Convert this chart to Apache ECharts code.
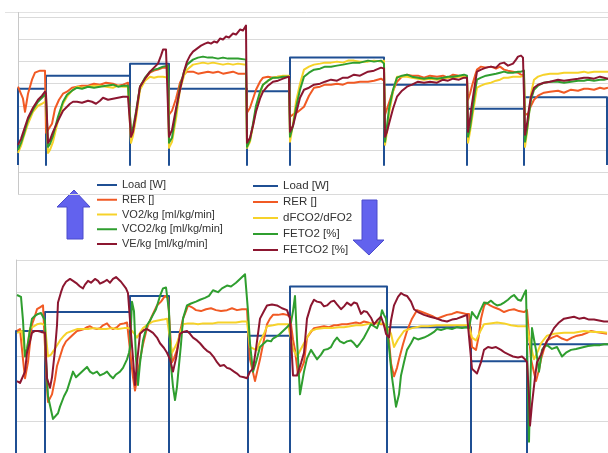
<!DOCTYPE html>
<html>
<head>
<meta charset="utf-8">
<script src="https://cdn.jsdelivr.net/npm/echarts@6/dist/echarts.min.js"></script>
<style>
  html, body { margin: 0; padding: 0; background: #ffffff; }
  #chart { width: 608px; height: 453px; }
</style>
</head>
<body>
<div id="chart"></div>
<script>
// ---- Upper panel: gas exchange per kg (time in s, values in panel units) ----
const loadTopT = [0, 28, 112, 151, 229, 272, 366, 449, 506, 589];
const loadTopW = [105, 118, 130, 105, 102.5, 136, 109, 85, 96.5];
const loadTopBase = 29;

const rerTop = [
  [0,107],[2,107],[5,95],[7,82],[10,100],[14,114],[17,121],[22,123],[27,123],[28,61],
  [30,62],[34,70],[37,85],[41,94],[45,100],[49,102],[54,106],[59,107],[64,108],[70,108],[76,110],[82,109],[88,111],[95,110],[100,108],[105,109],[110,111],[112,111],
  [113,62],[116,66],[119,85],[122,107],[127,115],[132,121],[136,123],[140,124],[145,126],[150,126],
  [151,79],[154,83],[158,95],[162,111],[166,119],[169,122],[175,122],[180,120],[185,121],[190,122],[195,121],[200,122],[205,120],[210,121],[215,122],[220,120],[228,120],
  [229,81],[232,86],[235,95],[238,104],[242,112],[245,116],[250,117],[255,116],[260,117],[265,117],[271,117],
  [272,77],[276,80],[280,82],[286,87],[291,98],[296,106],[302,107],[307,109],[313,109],[319,110],[325,109],[330,111],[336,111],[342,112],[350,112],[356,113],[363,115],[366,113],
  [367,79],[370,88],[373,97],[376,105],[379,112],[384,117],[389,119],[394,118],[400,118],[406,116],[412,118],[419,117],[425,118],[430,116],[435,119],[441,118],[446,117],[449,116],
  [450,94],[452,100],[454,108],[457,118],[459,124],[463,127],[468,126],[473,127],[478,125],[482,127],[486,124],[490,123],[495,122],[500,121],[503,119],[506,118],
  [507,79],[510,80],[513,88],[516,94],[520,98],[526,101],[532,102],[540,103],[546,101],[553,104],[560,103],[566,105],[570,105],[576,104],[582,106],[586,105],[590,106]
];
const vo2Top = [
  [0,41],[3,48],[6,58],[10,70],[15,82],[20,88],[24,90],[27,92],[28,90],
  [30,41],[32,44],[35,52],[40,73],[45,90],[49,97],[54,103],[59,107],[64,106],[70,107],[76,108],[82,108],[88,107],[95,106],[100,108],[105,107],[110,107],[112,106],
  [113,51],[115,58],[118,75],[122,104],[127,113],[132,117],[136,116],[140,117],[145,117],[150,116],
  [151,46],[154,52],[158,75],[162,104],[166,118],[169,124],[175,129],[180,130],[185,131],[190,130],[195,131],[200,130],[205,129],[210,130],[215,129],[220,130],[228,129],
  [229,46],[232,52],[235,68],[238,85],[242,100],[245,109],[250,113],[255,116],[260,117],[265,118],[271,118],
  [272,52],[275,70],[278,92],[282,110],[286,124],[291,127],[296,129],[302,130],[307,131],[313,131],[319,132],[325,131],[330,133],[336,133],[342,132],[350,132],[356,133],[363,132],[366,133],
  [367,49],[369,62],[371,80],[375,102],[379,117],[384,117],[389,117],[394,116],[400,115],[406,114],[412,115],[419,114],[425,115],[430,116],[435,116],[441,117],[446,117],[449,116],
  [450,51],[452,62],[454,75],[457,94],[459,106],[463,108],[468,110],[473,111],[478,113],[482,114],[486,116],[490,116],[495,117],[500,117],[503,117],[506,118],
  [507,47],[509,62],[511,80],[513,100],[516,114],[520,117],[526,119],[532,120],[540,120],[546,121],[553,121],[560,121],[566,122],[570,121],[576,122],[582,122],[586,122],[590,122]
];
const vco2Top = [
  [0,44],[3,51],[6,60],[10,74],[15,84],[20,92],[24,96],[27,99],[28,97],
  [30,47],[32,50],[35,58],[40,77],[45,92],[49,99],[54,103],[59,106],[64,105],[70,107],[76,106],[82,107],[88,108],[95,109],[100,107],[105,108],[110,108],[112,107],
  [113,62],[115,66],[118,82],[122,107],[127,116],[132,122],[136,124],[140,125],[145,127],[150,128],
  [151,51],[154,56],[158,82],[162,107],[166,122],[169,129],[175,134],[180,136],[185,137],[190,136],[195,136],[200,135],[205,136],[210,135],[215,135],[220,135],[228,134],
  [229,47],[232,54],[235,70],[238,88],[242,102],[245,109],[250,113],[255,116],[260,116],[265,117],[271,117],
  [272,57],[275,68],[278,86],[282,104],[286,117],[291,121],[296,124],[302,125],[307,127],[313,127],[319,128],[325,129],[330,130],[336,131],[342,131],[350,133],[356,132],[363,133],[366,130],
  [367,52],[369,68],[371,85],[375,104],[379,116],[384,118],[389,119],[394,117],[400,116],[406,115],[412,116],[419,115],[425,116],[430,117],[435,117],[441,118],[446,119],[449,118],
  [450,57],[452,66],[454,80],[457,102],[459,114],[463,116],[468,118],[473,119],[478,120],[482,121],[486,122],[490,121],[495,121],[500,122],[503,122],[506,123],
  [507,52],[509,64],[511,80],[513,94],[516,104],[520,108],[526,111],[532,112],[540,112],[546,111],[553,112],[560,113],[566,113],[570,114],[576,113],[582,114],[586,114],[590,115]
];
const veTop = [
  [0,49],[3,55],[6,64],[10,76],[15,86],[20,94],[24,98],[27,102],[28,100],
  [30,51],[32,54],[35,62],[40,73],[45,83],[49,87],[52,90],[55,92],[59,92],[64,91],[70,93],[74,92],[78,90],[82,93],[85,96],[90,94],[95,95],[100,96],[105,97],[110,97],[112,97],
  [113,57],[115,62],[118,80],[122,107],[127,115],[132,122],[136,126],[140,130],[143,138],[145,144],[148,144],[150,143],
  [151,57],[154,64],[158,85],[162,104],[166,122],[169,132],[172,138],[175,142],[179,145],[183,148],[187,150],[190,151],[193,150],[196,152],[199,151],[202,155],[205,154],[208,157],[211,156],[215,160],[218,159],[222,164],[225,163],[228,168],
  [229,51],[232,56],[235,68],[238,82],[242,95],[245,102],[250,108],[255,112],[260,113],[265,115],[271,117],
  [272,62],[275,68],[278,80],[282,96],[286,104],[291,106],[296,109],[302,110],[307,112],[313,114],[319,113],[325,116],[330,116],[336,119],[342,118],[350,122],[356,123],[363,126],[366,125],
  [367,57],[369,62],[371,70],[375,85],[379,97],[384,103],[389,107],[394,109],[400,112],[406,111],[412,112],[419,111],[425,114],[430,113],[435,115],[441,114],[446,116],[449,116],
  [450,62],[452,75],[454,90],[457,110],[459,122],[463,124],[468,126],[473,127],[478,126],[482,130],[486,131],[490,128],[495,130],[498,134],[500,137],[503,138],[505,136],
  [507,59],[509,70],[511,85],[513,97],[516,106],[520,109],[526,111],[532,112],[540,114],[546,113],[553,114],[560,115],[566,116],[570,116],[576,115],[582,117],[586,116],[590,115]
];

// ---- Lower panel: end-tidal fractions ----
const loadBotT = [0, 29, 114, 153, 232, 274, 371, 455, 511, 592];
const loadBotW = [129, 149, 166, 128, 124, 176, 133, 97, 115];
const loadBotBase = 0;

const rerBot = [
  [1,129],[4,131],[7,99],[9,79],[12,96],[16,136],[19,145],[21,152],[24,154],[27,156],[29,154],
  [31,69],[32,54],[34,56],[36,62],[39,78],[41,92],[44,102],[47,112],[50,118],[54,122],[58,126],[61,129],[65,130],[68,131],[71,133],[74,134],[77,132],[81,131],[84,132],[87,135],[91,137],[94,133],[97,131],[101,133],[104,136],[108,137],[111,138],[113,137],
  [115,99],[117,80],[119,66],[122,85],[124,99],[127,115],[131,132],[136,145],[141,156],[145,160],[149,166],[152,164],
  [156,96],[158,100],[161,109],[164,128],[167,142],[170,150],[172,156],[176,154],[180,151],[185,150],[190,152],[195,153],[200,151],[205,150],[211,151],[216,153],[221,151],[226,152],[231,152],
  [234,99],[237,85],[239,76],[242,90],[244,99],[248,120],[251,136],[254,142],[257,146],[262,146],[267,147],[271,146],[274,144],
  [277,120],[279,109],[282,82],[285,88],[288,96],[291,122],[295,128],[298,132],[303,133],[308,134],[313,133],[318,135],[321,135],[326,136],[331,136],[335,137],[340,138],[344,137],[348,139],[352,138],[355,137],[358,137],[362,138],[365,136],[368,136],[370,134],
  [373,119],[375,95],[378,81],[381,90],[383,99],[387,115],[391,129],[396,142],[401,151],[406,149],[411,147],[416,145],[421,142],[426,144],[431,146],[436,147],[441,149],[446,148],[450,147],[453,147],
  [456,112],[460,109],[463,125],[465,142],[468,155],[470,159],[474,156],[478,154],[483,152],[488,149],[493,151],[498,152],[503,150],[508,149],[511,151],
  [515,99],[518,85],[520,76],[523,88],[525,99],[528,110],[531,119],[536,122],[541,124],[546,121],[551,119],[556,122],[561,124],[566,125],[571,127],[575,129],[580,128],[585,127],[591,126]
];
const dfBot = [
  [1,127],[6,129],[9,102],[11,110],[14,132],[18,134],[21,136],[25,137],[27,137],[29,135],
  [32,102],[35,104],[37,106],[40,112],[44,119],[48,124],[51,127],[56,129],[61,131],[66,131],[72,131],[78,132],[84,131],[90,131],[96,132],[102,131],[108,132],[113,132],
  [116,129],[119,125],[121,122],[124,127],[127,132],[132,136],[137,139],[142,140],[147,141],[151,142],
  [156,106],[158,110],[161,116],[164,126],[167,136],[172,137],[177,137],[182,136],[187,137],[192,137],[197,137],[202,138],[208,138],[214,138],[220,138],[226,139],[231,139],
  [234,112],[238,110],[241,109],[244,118],[248,126],[251,134],[257,135],[262,136],[267,136],[272,136],[274,136],
  [277,110],[281,102],[284,108],[288,116],[291,122],[295,129],[300,131],[308,132],[316,132],[323,133],[328,133],[334,134],[340,135],[346,135],[355,137],[362,137],[368,137],[370,137],
  [373,130],[375,126],[378,112],[382,120],[388,129],[396,132],[405,134],[412,134],[421,135],[430,135],[440,135],[447,135],[453,135],
  [456,122],[460,119],[464,128],[468,136],[474,137],[481,138],[488,137],[495,135],[502,134],[508,134],[511,134],
  [515,112],[518,99],[522,108],[525,116],[528,120],[531,124],[538,126],[548,127],[558,127],[568,129],[578,128],[585,128],[591,127]
];
const feto2Bot = [
  [1,167],[3,169],[5,165],[7,140],[9,102],[11,110],[14,130],[16,142],[19,145],[22,147],[25,148],[27,149],[29,140],
  [30,99],[32,60],[37,36],[39,34],[42,42],[44,49],[48,60],[51,66],[54,76],[57,86],[60,80],[64,84],[68,88],[71,91],[74,86],[77,84],[81,86],[84,82],[88,84],[91,86],[94,82],[97,79],[100,83],[104,86],[107,90],[111,99],[113,106],
  [114,112],[116,160],[118,150],[120,100],[122,72],[124,95],[127,119],[131,135],[134,140],[137,146],[140,152],[144,166],[147,174],[150,175],[152,174],
  [153,150],[155,92],[157,70],[159,56],[161,70],[162,82],[165,115],[167,142],[171,156],[175,158],[180,160],[184,162],[189,164],[193,166],[197,172],[202,170],[206,174],[211,177],[215,176],[220,180],[224,184],[229,189],[231,187],
  [232,150],[234,116],[237,86],[240,96],[244,112],[248,116],[251,119],[255,118],[257,121],[262,124],[267,129],[272,134],[275,138],[277,150],[279,166],[281,120],[284,62],
  [288,86],[291,100],[295,109],[298,104],[301,99],[305,104],[308,109],[312,110],[315,112],[318,118],[321,122],[324,118],[328,116],[331,118],[335,119],[338,116],[341,112],[344,116],[348,122],[351,128],[355,136],[358,134],[361,132],[364,140],[366,151],[368,146],[370,142],
  [371,140],[373,112],[376,80],[380,49],[383,62],[385,82],[388,96],[391,109],[395,116],[398,122],[402,120],[408,122],[412,124],[415,126],[418,128],[421,131],[425,130],[431,132],[436,131],[441,133],[446,132],[450,133],[453,132],
  [456,149],[458,146],[461,142],[464,150],[468,159],[471,158],[475,161],[478,158],[481,156],[485,157],[488,159],[492,162],[495,165],[498,167],[502,162],[505,161],[508,168],[510,172],[512,174],
  [513,12],[514,60],[516,132],[518,120],[520,109],[523,86],[526,109],[528,112],[531,114],[536,110],[541,112],[544,106],[546,102],[550,106],[555,109],[560,110],[564,111],[568,112],[572,113],[578,114],[584,114],[588,115],[592,115]
];
const fetco2Bot = [
  [1,76],[4,74],[6,72],[9,86],[11,106],[14,118],[16,127],[19,129],[22,129],[25,128],[27,127],[29,127],
  [31,79],[34,69],[36,80],[39,109],[41,135],[42,159],[45,170],[47,176],[50,181],[54,184],[57,182],[61,179],[64,176],[67,174],[69,178],[72,182],[75,180],[79,184],[82,182],[84,179],[88,181],[91,183],[94,180],[97,184],[100,186],[102,184],[105,181],[107,179],[110,174],[112,169],
  [115,126],[117,100],[119,72],[121,95],[124,126],[128,130],[131,131],[134,129],[137,127],[141,122],[144,116],[148,111],[151,106],
  [154,99],[157,86],[160,100],[164,126],[167,128],[171,129],[174,126],[177,122],[181,119],[184,116],[188,111],[191,108],[194,106],[198,101],[201,96],[204,92],[208,93],[211,90],[214,89],[218,86],[221,84],[224,81],[228,80],[231,79],
  [234,86],[237,89],[240,110],[244,142],[248,150],[251,156],[256,157],[261,156],[266,153],[271,151],[274,142],
  [277,82],[281,82],[285,95],[288,106],[291,142],[295,156],[298,162],[301,160],[305,159],[308,155],[311,156],[315,160],[318,161],[321,157],[325,152],[328,155],[331,159],[335,156],[338,159],[341,158],[345,147],[348,150],[351,149],[355,143],[358,136],[361,140],[365,144],[368,135],[370,126],
  [373,122],[375,140],[378,156],[382,165],[385,169],[388,167],[391,166],[395,160],[398,152],[402,149],[408,146],[414,144],[421,142],[426,140],[431,139],[436,141],[441,142],[446,144],[451,146],[453,146],
  [456,89],[461,84],[465,96],[468,109],[472,112],[476,111],[480,112],[485,109],[489,106],[493,104],[497,102],[502,101],[506,102],[509,99],[511,96],
  [513,60],[514,29],[516,52],[519,80],[521,96],[525,104],[528,112],[533,122],[538,132],[543,138],[548,142],[553,143],[558,144],[563,142],[568,143],[573,141],[578,141],[583,140],[588,139],[592,139]
];

const COLORS = {
  load: '#1f4f93',
  rer: '#f15a24',
  yellow: '#f6d22a',
  green: '#2f9e2f',
  darkred: '#8c1630'
};

// Step trace of the work rate: every change of load passes through the base level.
function loadSteps(times, levels, base, dropAtEnd) {
  const pts = [[times[0], base], [times[0], levels[0]]];
  for (let i = 1; i < times.length; i++) {
    pts.push([times[i], levels[i - 1]]);
    if (i < levels.length) {
      pts.push([times[i], base], [times[i], levels[i]]);
    } else if (dropAtEnd) {
      pts.push([times[i], base]);
    }
  }
  return pts;
}

function trace(name, data, color, axisIndex, width) {
  return {
    name: name,
    type: 'line',
    xAxisIndex: axisIndex,
    yAxisIndex: axisIndex,
    data: data,
    showSymbol: false,
    symbol: 'none',
    animation: false,
    lineStyle: { color: color, width: width || 2, join: 'round' },
    itemStyle: { color: color }
  };
}

const gridLine = { show: true, lineStyle: { color: '#dadada', width: 1 } };
const axisGray = { show: true, lineStyle: { color: '#c8c8c8', width: 1 } };

const chart = echarts.init(document.getElementById('chart'), null, { renderer: 'canvas' });
chart.setOption({
  backgroundColor: '#ffffff',
  animation: false,
  textStyle: { fontFamily: '"Liberation Sans", Arial, sans-serif' },
  grid: [
    { left: 18, top: 17.5, width: 590, height: 176.5 },
    { left: 16, top: 260, width: 592, height: 204 }
  ],
  xAxis: [
    { type: 'value', gridIndex: 0, min: 0, max: 590, axisLine: { show: false }, axisTick: { show: false }, axisLabel: { show: false }, splitLine: { show: false } },
    { type: 'value', gridIndex: 1, min: 0, max: 592, axisLine: { show: false }, axisTick: { show: false }, axisLabel: { show: false }, splitLine: { show: false } }
  ],
  yAxis: [
    { type: 'value', gridIndex: 0, min: 0, max: 176, interval: 22, axisLine: axisGray, axisTick: { show: false }, axisLabel: { show: false }, splitLine: gridLine },
    { type: 'value', gridIndex: 1, min: 0, max: 204, interval: 34, axisLine: axisGray, axisTick: { show: false }, axisLabel: { show: false }, splitLine: gridLine }
  ],
  legend: [
    {
      orient: 'vertical', left: 97, top: 179, padding: 0, itemGap: 2.75,
      itemWidth: 20, itemHeight: 2, icon: 'rect',
      textStyle: { fontSize: 11, color: '#333', lineHeight: 12 },
      selectedMode: false,
      data: ['Load [W]', 'RER []', 'VO2/kg [ml/kg/min]', 'VCO2/kg [ml/kg/min]', 'VE/kg [ml/kg/min]']
    },
    {
      orient: 'vertical', left: 253, top: 179.5, padding: 0, itemGap: 3,
      itemWidth: 25, itemHeight: 2, icon: 'rect',
      textStyle: { fontSize: 11.5, color: '#333', lineHeight: 13 },
      selectedMode: false,
      data: ['Load [W]', 'RER []', 'dFCO2/dFO2', 'FETO2 [%]', 'FETCO2 [%]']
    }
  ],
  graphic: [
    { type: 'line', shape: { x1: 5, y1: 12.5, x2: 608, y2: 12.5 }, style: { stroke: '#e2e2e2', lineWidth: 1 }, silent: true },
    { type: 'line', shape: { x1: 18.5, y1: 12, x2: 18.5, y2: 18 }, style: { stroke: '#c8c8c8', lineWidth: 1 }, silent: true },
    {
      type: 'polygon', silent: true,
      shape: { points: [[74, 190], [90, 207], [83, 207], [83, 239], [67, 239], [67, 207], [57, 207]] },
      style: { fill: '#6262ee', stroke: '#4a4acc', lineWidth: 1 }
    },
    {
      type: 'polygon', silent: true,
      shape: { points: [[362, 200], [377, 200], [377, 240], [384, 240], [369, 255], [353, 240], [362, 240]] },
      style: { fill: '#6262ee', stroke: '#4a4acc', lineWidth: 1 }
    }
  ],
  series: [
    trace('Load [W]', loadSteps(loadTopT, loadTopW, loadTopBase, true), COLORS.load, 0, 2),
    trace('RER []', rerTop, COLORS.rer, 0),
    trace('VO2/kg [ml/kg/min]', vo2Top, COLORS.yellow, 0),
    trace('VCO2/kg [ml/kg/min]', vco2Top, COLORS.green, 0),
    trace('VE/kg [ml/kg/min]', veTop, COLORS.darkred, 0),
    trace('Load [W]', loadSteps(loadBotT, loadBotW, loadBotBase, false), COLORS.load, 1, 2),
    trace('RER []', rerBot, COLORS.rer, 1),
    trace('dFCO2/dFO2', dfBot, COLORS.yellow, 1),
    trace('FETO2 [%]', feto2Bot, COLORS.green, 1),
    trace('FETCO2 [%]', fetco2Bot, COLORS.darkred, 1)
  ]
});
</script>
</body>
</html>
